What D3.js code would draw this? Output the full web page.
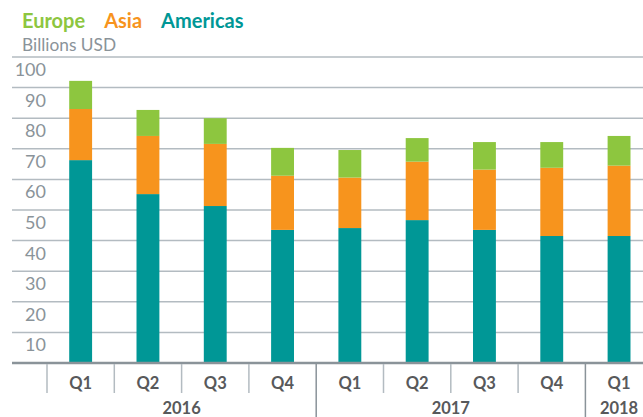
<!DOCTYPE html>
<meta charset="utf-8">
<style>
body {
  margin: 0;
  padding: 0;
  background: #fff;
}
svg text {
  font-family: Lato, "Open Sans", sans-serif;
}
</style>
<body>
<script src="https://d3js.org/d3.v7.min.js"></script>
<script>

// data (billions USD)
var quarters = ["Q1", "Q2", "Q3", "Q4", "Q1", "Q2", "Q3", "Q4", "Q1"];
var years = ["2016", "2016", "2016", "2016", "2017", "2017", "2017", "2017", "2018"];
var americas = [66.3, 55.2, 51.3, 43.5, 44.1, 46.7, 43.5, 41.5, 41.5];
var asia = [16.7, 19.0, 20.3, 17.7, 16.5, 19.1, 19.7, 22.3, 23.0];
var europe = [9.2, 8.5, 8.4, 9.1, 9.0, 7.7, 9.0, 8.4, 9.7];
var seriesNames = ["Americas", "Asia", "Europe"];
var legendNames = ["Europe", "Asia", "Americas"];
var yTicks = [10, 20, 30, 40, 50, 60, 70, 80, 90, 100];

var colors = {
  Europe: "#8dc63f",
  Asia: "#f7941d",
  Americas: "#009796"
};

var width = 643,
    height = 417;

var rows = quarters.map(function(q, i) {
  return { key: i, Americas: americas[i], Asia: asia[i], Europe: europe[i] };
});

var x = d3.scaleBand()
    .domain(d3.range(quarters.length))
    .range([47, 47 + 67.3 * quarters.length])
    .paddingInner(0.66)
    .paddingOuter(0.33);

var y = d3.scaleLinear()
    .domain([0, 100])
    .range([363, 57]);

var svg = d3.select("body").append("svg")
    .attr("width", width)
    .attr("height", height);

// legend
var lx = 22;
legendNames.forEach(function(n) {
  var t = svg.append("text")
      .attr("x", lx)
      .attr("y", 28)
      .style("font-size", "20px")
      .style("font-weight", 700)
      .style("fill", colors[n])
      .text(n);
  lx += t.node().getComputedTextLength() + 19;
});

svg.append("text")
    .attr("x", 22)
    .attr("y", 51)
    .style("font-size", "17.3px")
    .style("fill", "#8a9399")
    .text("Billions USD");

// gridlines + labels below each line
var grid = svg.append("g");
yTicks.forEach(function(t) {
  grid.append("line")
      .attr("x1", 12).attr("x2", width)
      .attr("y1", y(t)).attr("y2", y(t))
      .style("stroke", "#b3bbc1")
      .style("stroke-width", 1.5);
  grid.append("text")
      .attr("x", 46)
      .attr("y", y(t) + 19)
      .attr("text-anchor", "end")
      .style("font-size", "18px")
      .style("fill", "#8a9399")
      .text(t);
});

// stacked bars
var stack = d3.stack().keys(seriesNames)(rows);

svg.append("g").selectAll("g")
  .data(stack)
  .join("g")
    .style("fill", function(d) { return colors[d.key]; })
  .selectAll("rect")
  .data(function(d) { return d; })
  .join("rect")
    .attr("x", function(d) { return x(d.data.key); })
    .attr("width", x.bandwidth())
    .attr("y", function(d) { return y(d[1]); })
    .attr("height", function(d) { return y(d[0]) - y(d[1]); });

// baseline
svg.append("line")
    .attr("x1", 12).attr("x2", width)
    .attr("y1", y(0)).attr("y2", y(0))
    .style("stroke", "#8a9399")
    .style("stroke-width", 2.5);

// category separators
var step = x.step();
var x0 = x.range()[0];
quarters.forEach(function(q, i) {
  var sx = x0 + i * step;
  var yearStart = i > 0 && years[i] !== years[i - 1];
  svg.append("line")
      .attr("x1", sx).attr("x2", sx)
      .attr("y1", y(0) + 1)
      .attr("y2", yearStart ? height : 393)
      .style("stroke", yearStart ? "#8a9399" : "#b3bbc1")
      .style("stroke-width", 1.5);

  svg.append("text")
      .attr("x", x(i) + x.bandwidth() / 2)
      .attr("y", 389)
      .attr("text-anchor", "middle")
      .style("font-size", "16.5px")
      .style("font-weight", 700)
      .style("fill", "#58595b")
      .text(q);
});

// year labels
var yearGroups = d3.groups(d3.range(quarters.length), function(i) { return years[i]; });
yearGroups.forEach(function(g) {
  var first = g[1][0],
      last = g[1][g[1].length - 1];
  var cx = (x0 + first * step + x0 + (last + 1) * step) / 2;
  cx = Math.min(cx, width - 21);
  svg.append("text")
      .attr("x", cx)
      .attr("y", 414)
      .attr("text-anchor", "middle")
      .style("font-size", "16.5px")
      .style("font-weight", 700)
      .style("fill", "#58595b")
      .text(g[0]);
});

</script>
